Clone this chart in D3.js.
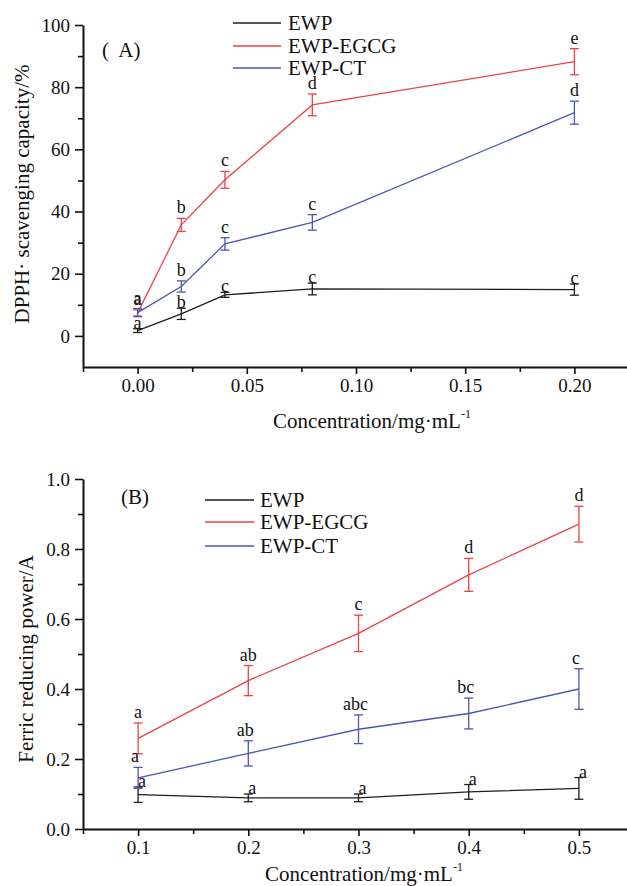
<!DOCTYPE html>
<html>
<head>
<meta charset="utf-8">
<script src="https://cdn.jsdelivr.net/npm/d3@7"></script>
<style>
  html, body { margin: 0; padding: 0; background: #fff; }
  svg { display: block; font-family: "Liberation Serif", "Times New Roman", serif; }
</style>
</head>
<body>
<svg id="chart" width="627" height="886"></svg>
<script>
// ---------- Data: panel A (DPPH) ----------
const concA = [0, 0.02, 0.04, 0.08, 0.20];
const ewpA = [1.7, 7.1, 13.2, 15.1, 14.9];
const ewpAErr = [0.6, 1.8, 0.8, 1.9, 1.8];
const egcgA = [7.4, 35.7, 50.2, 74.3, 88.2];
const egcgAErr = [1.0, 2.1, 2.7, 3.5, 4.2];
const ctA = [7.5, 15.9, 29.6, 36.5, 71.8];
const ctAErr = [1.3, 1.8, 2.0, 2.5, 3.7];
const ewpALetters = ["a", "b", "c", "c", "c"];
const egcgALetters = ["a", "b", "c", "d", "e"];
const ctALetters = ["a", "b", "c", "c", "d"];
const xTicksA = [0, 0.05, 0.10, 0.15, 0.20];
const xMinorA = [-0.025, 0.025, 0.075, 0.125, 0.175];
const yTicksA = [0, 20, 40, 60, 80, 100];
const yMinorA = [10, 30, 50, 70, 90];

// ---------- Data: panel B (Ferric reducing power) ----------
const concB = [0.1, 0.2, 0.3, 0.4, 0.5];
const ewpB = [0.098, 0.089, 0.089, 0.106, 0.116];
const ewpBErr = [0.022, 0.011, 0.011, 0.021, 0.031];
const egcgB = [0.259, 0.424, 0.559, 0.726, 0.871];
const egcgBErr = [0.044, 0.043, 0.052, 0.047, 0.051];
const ctB = [0.146, 0.216, 0.285, 0.330, 0.400];
const ctBErr = [0.030, 0.036, 0.041, 0.044, 0.058];
const ewpBLetters = ["a", "a", "a", "a", "a"];
const egcgBLetters = ["a", "ab", "c", "d", "d"];
const ctBLetters = ["a", "ab", "abc", "bc", "c"];
const xTicksB = [0.1, 0.2, 0.3, 0.4, 0.5];
const xMinorB = [0.05, 0.15, 0.25, 0.35, 0.45];
const yTicksB = [0.0, 0.2, 0.4, 0.6, 0.8, 1.0];
const yMinorB = [0.1, 0.3, 0.5, 0.7, 0.9];

const seriesNames = ["EWP", "EWP-EGCG", "EWP-CT"];
const colors = ["#1e1e1e", "#e8434b", "#4b57b0"];

const svg = d3.select("#chart");

function panel(cfg) {
  const g = svg.append("g");
  const x = d3.scaleLinear().domain(cfg.xDomain).range(cfg.xRange);
  const y = d3.scaleLinear().domain(cfg.yDomain).range(cfg.yRange);

  // minor ticks
  g.append("g").attr("transform", `translate(0,${cfg.yRange[0]})`)
    .call(d3.axisBottom(x).tickValues(cfg.xMinor).tickSize(5).tickFormat("").tickSizeOuter(0))
    .call(s => s.select(".domain").remove());
  g.append("g").attr("transform", `translate(${cfg.xRange[0]},0)`)
    .call(d3.axisLeft(y).tickValues(cfg.yMinor).tickSize(5).tickFormat("").tickSizeOuter(0))
    .call(s => s.select(".domain").remove());

  // major axes
  const xAx = g.append("g").attr("transform", `translate(0,${cfg.yRange[0]})`)
    .call(d3.axisBottom(x).tickValues(cfg.xTicks).tickSize(7).tickSizeOuter(0).tickPadding(5).tickFormat(cfg.xFmt));
  const yAx = g.append("g").attr("transform", `translate(${cfg.xRange[0]},0)`)
    .call(d3.axisLeft(y).tickValues(cfg.yTicks).tickSize(8).tickSizeOuter(0).tickPadding(5).tickFormat(cfg.yFmt));
  [xAx, yAx].forEach(a => {
    a.selectAll("text").attr("font-size", 19).attr("fill", "#111").attr("font-family", "Liberation Serif");
  });
  g.selectAll(".domain").attr("stroke", "#111").attr("stroke-width", 2);
  g.selectAll(".tick line").attr("stroke", "#111").attr("stroke-width", 1.6);

  // series
  cfg.series.forEach((s, i) => {
    const pts = cfg.conc.map((c, j) => ({ x: c, v: s.vals[j], e: s.err[j], l: s.letters[j] }));
    const col = colors[i];
    g.append("path").datum(pts)
      .attr("fill", "none").attr("stroke", col).attr("stroke-width", 1.3)
      .attr("d", d3.line().x(d => x(d.x)).y(d => y(d.v)));
    const eb = g.append("g").selectAll("g").data(pts).join("g");
    eb.append("line").attr("x1", d => x(d.x)).attr("x2", d => x(d.x))
      .attr("y1", d => y(d.v - d.e)).attr("y2", d => y(d.v + d.e))
      .attr("stroke", col).attr("stroke-width", 1.3);
    [-1, 1].forEach(sgn => {
      eb.append("line").attr("x1", d => x(d.x) - 4.5).attr("x2", d => x(d.x) + 4.5)
        .attr("y1", d => y(d.v + sgn * d.e)).attr("y2", d => y(d.v + sgn * d.e))
        .attr("stroke", col).attr("stroke-width", 1.3);
    });
    g.append("g").selectAll("text").data(pts).join("text")
      .attr("x", d => x(d.x) + (cfg.labelDx ? cfg.labelDx[i] : 0))
      .attr("y", d => y(d.v + d.e) - (i === 0 ? 0 : 5))
      .attr("text-anchor", "middle").attr("font-size", 18).attr("fill", "#111")
      .text(d => d.l);
  });

  // legend
  seriesNames.forEach((n, i) => {
    const ly = cfg.legend.y[i];
    g.append("line").attr("x1", cfg.legend.x1).attr("x2", cfg.legend.x2)
      .attr("y1", ly).attr("y2", ly).attr("stroke", colors[i]).attr("stroke-width", 1.5);
    g.append("text").attr("x", cfg.legend.tx).attr("y", ly).attr("dy", "0.35em")
      .attr("font-size", 21).attr("fill", "#111").text(n);
  });

  // panel tag
  g.append("text").attr("x", cfg.tag.x).attr("y", cfg.tag.y)
    .attr("font-size", 21).attr("fill", "#111").style("white-space", "pre").text(cfg.tag.t);

  // x title
  const xt = g.append("text").attr("x", cfg.xTitle.x).attr("y", cfg.xTitle.y)
    .attr("text-anchor", "middle").attr("font-size", 21).attr("fill", "#111");
  xt.append("tspan").text("Concentration/mg\u00B7mL");
  xt.append("tspan").attr("font-size", 12).attr("dy", -10).text("-1");

  // y title
  g.append("text").attr("transform", `translate(${cfg.yTitle.x},${cfg.yTitle.y}) rotate(-90)`)
    .attr("text-anchor", "middle").attr("dy", "0.35em").attr("font-size", cfg.yTitle.size)
    .attr("fill", "#111").text(cfg.yTitle.t);
}

panel({
  xDomain: [-0.025, 0.225], xRange: [83, 629],
  yDomain: [-10, 100], yRange: [367, 25],
  xTicks: xTicksA, xMinor: xMinorA, yTicks: yTicksA, yMinor: yMinorA,
  xFmt: d3.format(".2f"), yFmt: d3.format("d"),
  conc: concA,
  series: [
    { vals: ewpA, err: ewpAErr, letters: ewpALetters },
    { vals: egcgA, err: egcgAErr, letters: egcgALetters },
    { vals: ctA, err: ctAErr, letters: ctALetters }
  ],
  legend: { x1: 233, x2: 281, tx: 288, y: [23, 46, 68] },
  tag: { x: 102, y: 57, t: "(  A)" },
  xTitle: { x: 372, y: 428 },
  yTitle: { x: 22, y: 194, size: 21, t: "DPPH\u00B7 scavenging capacity/%" }
});

panel({
  xDomain: [0.05, 0.55], xRange: [83, 634],
  yDomain: [0, 1], yRange: [829, 479],
  xTicks: xTicksB, xMinor: xMinorB, yTicks: yTicksB, yMinor: yMinorB,
  xFmt: d3.format(".1f"), yFmt: d3.format(".1f"),
  conc: concB,
  series: [
    { vals: ewpB, err: ewpBErr, letters: ewpBLetters },
    { vals: egcgB, err: egcgBErr, letters: egcgBLetters },
    { vals: ctB, err: ctBErr, letters: ctBLetters }
  ],
  labelDx: [4, 0, -3],
  legend: { x1: 205, x2: 254, tx: 260, y: [500, 522, 546] },
  tag: { x: 121, y: 504, t: "(B)" },
  xTitle: { x: 364, y: 881 },
  yTitle: { x: 26, y: 659, size: 21, t: "Ferric reducing power/A" }
});
</script>
</body>
</html>
